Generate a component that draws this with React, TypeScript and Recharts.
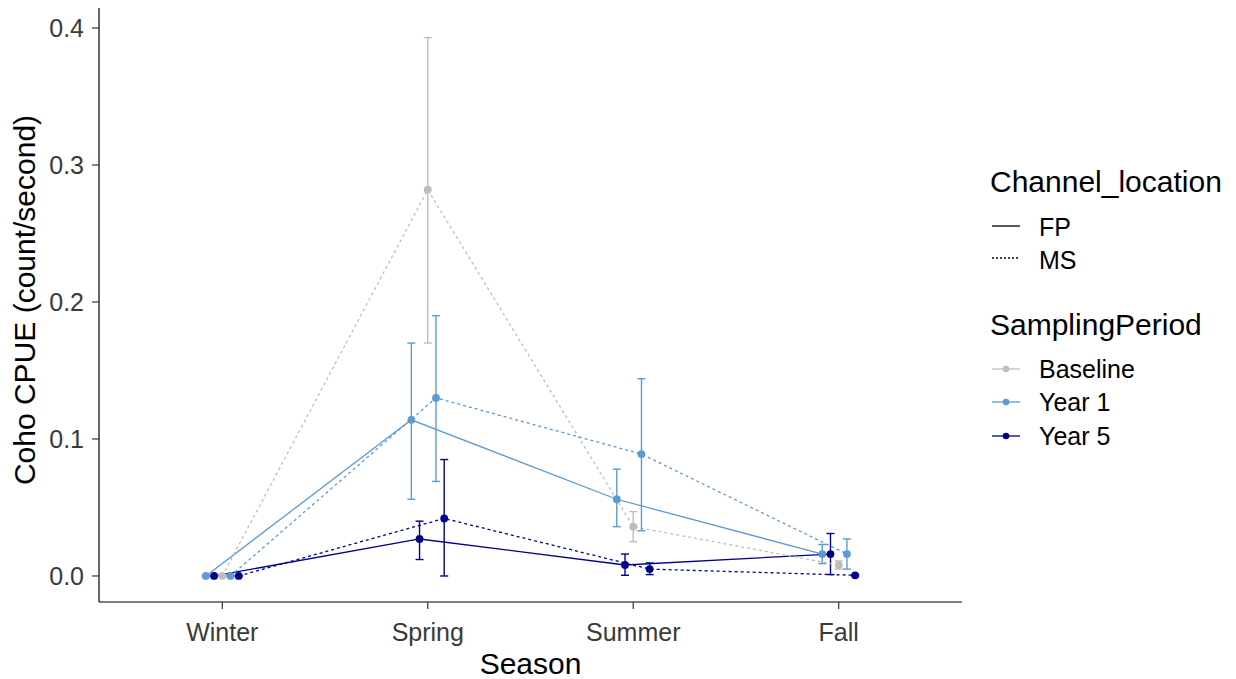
import React from 'react';
import { ComposedChart, Line, XAxis, YAxis, ErrorBar, Legend } from 'recharts';

const seasons = ['Winter', 'Spring', 'Summer', 'Fall'];
const seasonPos = [1, 2, 3, 4];
const yTicks = [0, 0.1, 0.2, 0.3, 0.4];

// Baseline (MS only)
const baselineMS = [0, 0.282, 0.036, 0.008];
const baselineMSLo = [0, 0.17, 0.025, 0.005];
const baselineMSHi = [0, 0.393, 0.047, 0.011];

// Year 1
const year1FP = [0, 0.114, 0.056, 0.016];
const year1FPLo = [0, 0.056, 0.036, 0.009];
const year1FPHi = [0, 0.17, 0.078, 0.023];
const year1MS = [0, 0.13, 0.089, 0.016];
const year1MSLo = [0, 0.069, 0.033, 0.005];
const year1MSHi = [0, 0.19, 0.144, 0.027];

// Year 5
const year5FP = [0, 0.027, 0.008, 0.016];
const year5FPLo = [0, 0.012, 0.0005, 0.001];
const year5FPHi = [0, 0.04, 0.016, 0.031];
const year5MS = [0, 0.042, 0.005, 0.0005];
const year5MSLo = [0, 0, 0.001, 0];
const year5MSHi = [0, 0.085, 0.0095, 0.001];

const GRAY = '#BEBEBE';
const LIGHT = '#5B9BD5';
const NAVY = '#00008B';
const DODGE_STEP = 0.04;
const FONT = '"Liberation Sans", Arial, sans-serif';

type Def = {
  id: string;
  color: string;
  dashed: boolean;
  dodge: number;
  mean: number[];
  lo: number[];
  hi: number[];
};

const defs: Def[] = [
  { id: 'y1fp', color: LIGHT, dashed: false, dodge: -2, mean: year1FP, lo: year1FPLo, hi: year1FPHi },
  { id: 'y5fp', color: NAVY, dashed: false, dodge: -1, mean: year5FP, lo: year5FPLo, hi: year5FPHi },
  { id: 'bms', color: GRAY, dashed: true, dodge: 0, mean: baselineMS, lo: baselineMSLo, hi: baselineMSHi },
  { id: 'y1ms', color: LIGHT, dashed: true, dodge: 1, mean: year1MS, lo: year1MSLo, hi: year1MSHi },
  { id: 'y5ms', color: NAVY, dashed: true, dodge: 2, mean: year5MS, lo: year5MSLo, hi: year5MSHi },
];

const rowsFor = (d: Def) =>
  seasons.map((s, i) => ({
    season: s,
    x: seasonPos[i] + d.dodge * DODGE_STEP,
    y: d.mean[i],
    err: [d.mean[i] - d.lo[i], d.hi[i] - d.mean[i]],
  }));

const LegendBox = () => (
  <svg width={256} height={320} style={{ display: 'block', fontFamily: FONT }}>
    <text x={10} y={42} fontSize={30} fill="#000">Channel_location</text>
    <line x1={12} x2={40} y1={76} y2={76} stroke="#000" strokeWidth={1.3} />
    <text x={59} y={86} fontSize={25} fill="#000">FP</text>
    <line x1={12} x2={40} y1={108} y2={108} stroke="#000" strokeWidth={1.3} strokeDasharray="2 2" />
    <text x={59} y={119} fontSize={25} fill="#000">MS</text>
    <text x={10} y={185} fontSize={30} fill="#000">SamplingPeriod</text>
    {[
      { c: GRAY, t: 'Baseline', cy: 219 },
      { c: LIGHT, t: 'Year 1', cy: 252 },
      { c: NAVY, t: 'Year 5', cy: 286 },
    ].map((r) => (
      <g key={r.t}>
        <line x1={12} x2={40} y1={r.cy} y2={r.cy} stroke={r.c} strokeWidth={1.3} />
        <circle cx={26} cy={r.cy} r={3.3} fill={r.c} />
        <text x={59} y={r.cy + 9} fontSize={25} fill="#000">{r.t}</text>
      </g>
    ))}
  </svg>
);

export default function App() {
  return (
    <div style={{ position: 'absolute', left: 0, top: 0, width: 1236, height: 679, background: '#fff', fontFamily: FONT }}>
      <ComposedChart width={1236} height={679} margin={{ top: 8, right: 274, bottom: 0, left: 0 }}>
        <XAxis
          type="number"
          dataKey="x"
          domain={[0.4, 4.6]}
          ticks={seasonPos}
          allowDataOverflow
          tickFormatter={(v: number) => seasons[Math.round(v) - 1] ?? ''}
          height={77}
          tickSize={7}
          tickMargin={14}
          stroke="#000"
          axisLine={{ stroke: '#000', strokeWidth: 1.2 }}
          tickLine={{ stroke: '#333', strokeWidth: 1.2 }}
          tick={{ fill: '#3A3A3A', fontSize: 25, fontFamily: FONT }}
          label={{
            content: (p: any) => (
              <text
                x={p.viewBox.x + p.viewBox.width / 2}
                y={674}
                textAnchor="middle"
                fontSize={30}
                fill="#000"
                fontFamily={FONT}
              >
                Season
              </text>
            ),
          }}
        />
        <YAxis
          type="number"
          domain={[-0.019, 0.4146]}
          ticks={yTicks}
          allowDataOverflow
          tickFormatter={(v: number) => v.toFixed(1)}
          width={99}
          tickSize={7}
          tickMargin={8}
          axisLine={{ stroke: '#000', strokeWidth: 1.2 }}
          tickLine={{ stroke: '#333', strokeWidth: 1.2 }}
          tick={{ fill: '#3A3A3A', fontSize: 25, fontFamily: FONT }}
          label={{
            content: (p: any) => {
              const cy = p.viewBox.y + p.viewBox.height / 2 - 5;
              return (
                <text
                  x={35}
                  y={cy}
                  transform={`rotate(-90, 35, ${cy})`}
                  textAnchor="middle"
                  fontSize={30}
                  fill="#000"
                  fontFamily={FONT}
                >
                  Coho CPUE (count/second)
                </text>
              );
            },
          }}
        />
        {defs.map((d) => (
          <Line
            key={d.id}
            data={rowsFor(d)}
            dataKey="y"
            type="linear"
            stroke={d.color}
            strokeWidth={1.3}
            strokeDasharray={d.dashed ? '3 3' : undefined}
            isAnimationActive={false}
            activeDot={false}
            legendType="none"
            dot={(p: any) => (
              <circle key={`${d.id}-dot-${p.index}`} cx={p.cx} cy={p.cy} r={3.9} fill={d.color} stroke="none" />
            )}
          >
            <ErrorBar dataKey="err" direction="y" width={4} stroke={d.color} strokeWidth={1.4} isAnimationActive={false} />
          </Line>
        ))}
        <Legend
          layout="vertical"
          align="center"
          verticalAlign="middle"
          wrapperStyle={{ position: 'absolute', left: 980, top: 150, width: 256, height: 320 }}
          content={() => <LegendBox />}
        />
      </ComposedChart>
    </div>
  );
}
